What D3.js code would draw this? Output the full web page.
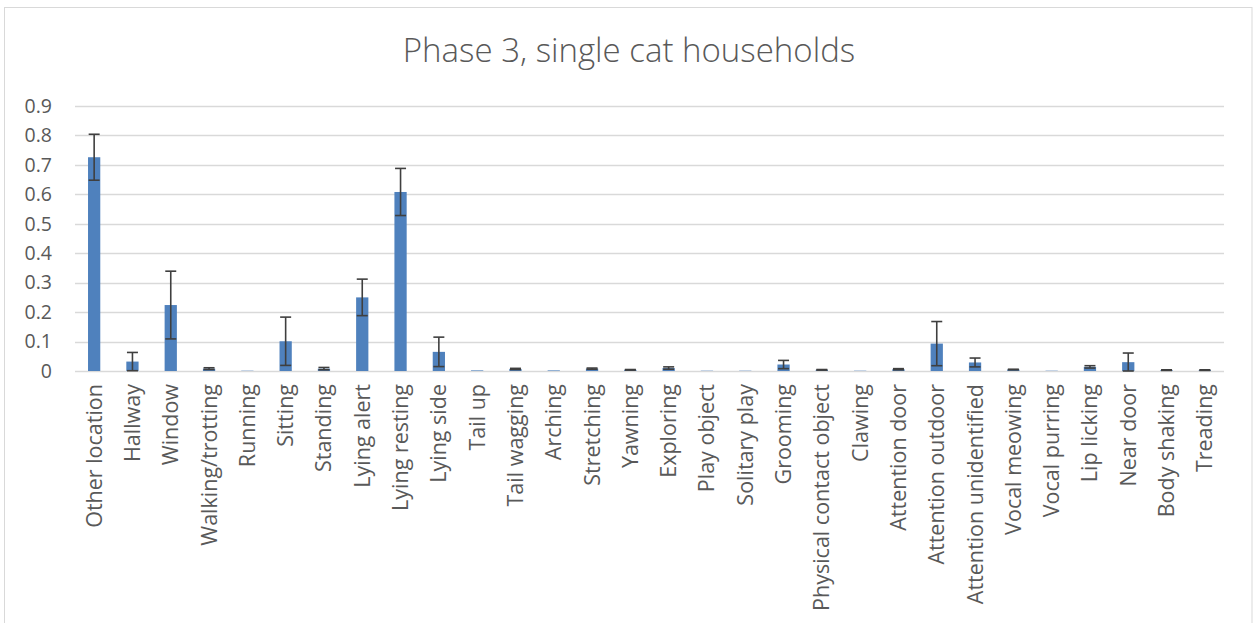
<!DOCTYPE html>
<html>
<head>
<meta charset="utf-8">
<script src="https://cdn.jsdelivr.net/npm/d3@7"></script>
<style>
  html, body { margin: 0; padding: 0; background: #fff; }
  svg { display: block; }
  text { font-family: "Open Sans", "Noto Sans", sans-serif; fill: #595959; }
</style>
</head>
<body>
<svg id="chart" width="1253" height="623"></svg>
<script>
// Behaviour categories
const categories = [
  "Other location", "Hallway", "Window", "Walking/trotting", "Running",
  "Sitting", "Standing", "Lying alert", "Lying resting", "Lying side",
  "Tail up", "Tail wagging", "Arching", "Stretching", "Yawning",
  "Exploring", "Play object", "Solitary play", "Grooming",
  "Physical contact object", "Clawing", "Attention door",
  "Attention outdoor", "Attention unidentified", "Vocal meowing",
  "Vocal purring", "Lip licking", "Near door", "Body shaking", "Treading"
];

// Mean proportion per behaviour
const means = [
  0.726, 0.032, 0.224, 0.008, 0.001,
  0.101, 0.008, 0.250, 0.608, 0.065,
  0.002, 0.007, 0.002, 0.008, 0.004,
  0.010, 0.001, 0.001, 0.022,
  0.004, 0.001, 0.006,
  0.093, 0.029, 0.005,
  0.001, 0.014, 0.030, 0.003, 0.003
];

// Error (± half-width) per behaviour
const errors = [
  0.078, 0.031, 0.115, 0.003, 0.000,
  0.082, 0.004, 0.062, 0.080, 0.050,
  0.000, 0.002, 0.000, 0.002, 0.001,
  0.004, 0.000, 0.000, 0.014,
  0.001, 0.000, 0.002,
  0.075, 0.015, 0.001,
  0.000, 0.004, 0.031, 0.001, 0.001
];

const yTicks = [0, 0.1, 0.2, 0.3, 0.4, 0.5, 0.6, 0.7, 0.8, 0.9];

const svg = d3.select("#chart");
const plot = { left: 75, right: 1224, top: 106, bottom: 371 };

// Outer chart frame
svg.append("rect")
  .attr("x", 4.5).attr("y", 7.5)
  .attr("width", 1247.5).attr("height", 630)
  .attr("fill", "#fff")
  .attr("stroke", "#d9d9d9").attr("stroke-width", 1);

// Title
svg.append("text")
  .attr("x", 629).attr("y", 62)
  .attr("text-anchor", "middle")
  .style("font-size", "33px")
  .style("font-weight", 300)
  .text("Phase 3, single cat households");

const x = d3.scaleBand()
  .domain(categories)
  .range([plot.left, plot.right])
  .paddingInner(0.68).paddingOuter(0.34);

const y = d3.scaleLinear()
  .domain([0, 0.9])
  .range([plot.bottom, plot.top]);

// Horizontal gridlines
svg.append("g")
  .selectAll("line")
  .data(yTicks)
  .join("line")
  .attr("x1", plot.left).attr("x2", plot.right)
  .attr("y1", d => Math.round(y(d)) + 0.5)
  .attr("y2", d => Math.round(y(d)) + 0.5)
  .attr("stroke", "#d9d9d9").attr("stroke-width", 1.3);

// Y axis labels
const yAxis = d3.axisLeft(y).tickValues(yTicks).tickSize(0).tickPadding(0)
  .tickFormat(d => d === 0 ? "0" : d3.format(".1f")(d));
const gy = svg.append("g").attr("transform", `translate(${52},0)`).call(yAxis);
gy.select(".domain").remove();
gy.selectAll("text")
  .attr("fill", "#595959")
  .style("font-family", "'Open Sans', sans-serif")
  .style("font-size", "19.5px");

// Bars
svg.append("g")
  .selectAll("rect")
  .data(categories)
  .join("rect")
  .attr("x", d => x(d))
  .attr("width", x.bandwidth())
  .attr("y", (d, i) => y(means[i]))
  .attr("height", (d, i) => y(0) - y(means[i]))
  .attr("fill", "#4f81bd");

// Error bars
const idx = d => categories.indexOf(d);
const hi = d => y(means[idx(d)] + errors[idx(d)]);
const lo = d => y(Math.max(0, means[idx(d)] - errors[idx(d)]));
const cx = d => x(d) + x.bandwidth() / 2;
const capHalf = 5.5;
const eb = svg.append("g")
  .attr("stroke", "#3f3f3f")
  .attr("stroke-width", 1.6)
  .selectAll("g")
  .data(categories.filter((d, i) => errors[i] > 0))
  .join("g");
eb.append("line")
  .attr("x1", cx).attr("x2", cx)
  .attr("y1", lo).attr("y2", hi);
eb.append("line")
  .attr("x1", d => cx(d) - capHalf).attr("x2", d => cx(d) + capHalf)
  .attr("y1", hi).attr("y2", hi);
eb.append("line")
  .attr("x1", d => cx(d) - capHalf).attr("x2", d => cx(d) + capHalf)
  .attr("y1", lo).attr("y2", lo);

// X axis labels (rotated)
const xAxis = d3.axisBottom(x).tickSize(0).tickPadding(0);
const gx = svg.append("g").attr("transform", `translate(0,${plot.bottom})`).call(xAxis);
gx.select(".domain").remove();
gx.selectAll("text")
  .attr("fill", "#595959")
  .style("font-family", "'Open Sans', sans-serif")
  .style("font-size", "21.5px")
  .attr("text-anchor", "end")
  .attr("dy", "0.35em")
  .attr("transform", "translate(0,13) rotate(-90)")
  .attr("x", 0).attr("y", 0);
</script>
</body>
</html>
